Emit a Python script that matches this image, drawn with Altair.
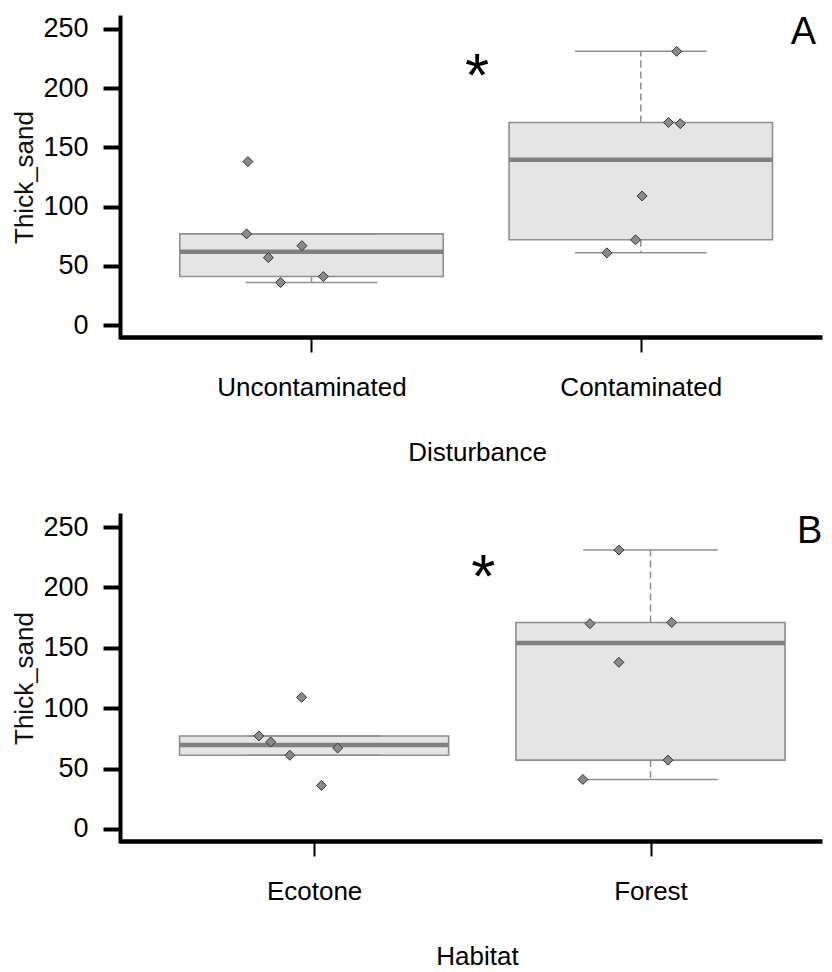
import altair as alt
import numpy as np
import pandas as pd

FONT = "Liberation Sans"

# ---------------- data ----------------
y_title = "Thick_sand"
y_ticks = [0, 50, 100, 150, 200, 250]

# Panel A
a_categories = ["Uncontaminated", "Contaminated"]
a_x_title = "Disturbance"
a_values = [[138, 77, 57, 67, 36, 41],
            [231, 171, 170, 109, 72, 61]]
a_jitter = [[0.807, 0.803, 0.869, 0.971, 0.906, 1.036],
            [2.109, 2.084, 2.120, 2.004, 1.984, 1.897]]
a_letter = "A"

# Panel B
b_categories = ["Ecotone", "Forest"]
b_x_title = "Habitat"
b_values = [[77, 72, 61, 109, 67, 36],
            [231, 170, 171, 138, 57, 41]]
b_jitter = [[0.836, 0.871, 0.928, 0.963, 1.070, 1.022],
            [1.906, 1.820, 2.063, 1.906, 2.052, 1.799]]
b_letter = "B"

# annotations (data coordinates): significance star and panel letter
star_x = [1.5, 1.5]
star_y = [193, 192]
letter_x = [2.494, 2.473]
letter_y = [237, 237]

# ---------------- style ----------------
BOXWEX = 0.8
STAPLE = 0.4
BOX_FILL = "#e5e5e5"
BOX_LINE = "#8f8f8f"
MED_LINE = "#808080"


def fivenum(v):
    s = sorted(v)
    n = len(s)
    n4 = np.floor((n + 3) / 2) / 2
    d = [1, n4, (n + 1) / 2, n + 1 - n4, n]
    return [0.5 * (s[int(np.floor(i)) - 1] + s[int(np.ceil(i)) - 1]) for i in d]


def box_stats(v):
    s = fivenum(v)
    iqr = s[3] - s[1]
    lo, hi = s[1] - 1.5 * iqr, s[3] + 1.5 * iqr
    inside = [x for x in v if lo <= x <= hi]
    return dict(wlo=min(inside), q1=s[1], med=s[2], q3=s[3], whi=max(inside))


def panel(k, cats, values, jitter, x_title, letter, x_domain, width, height):
    boxes, whisk, staples = [], [], []
    for i, v in enumerate(values):
        pos = i + 1
        st = box_stats(v)
        boxes.append(dict(pos=pos, xl=pos - BOXWEX / 2, xr=pos + BOXWEX / 2, **st))
        whisk.append(dict(pos=pos, y1=st["q3"], y2=st["whi"]))
        whisk.append(dict(pos=pos, y1=st["q1"], y2=st["wlo"]))
        staples.append(dict(sl=pos - STAPLE / 2, sr=pos + STAPLE / 2, y=st["whi"]))
        staples.append(dict(sl=pos - STAPLE / 2, sr=pos + STAPLE / 2, y=st["wlo"]))
    boxes = pd.DataFrame(boxes)
    whisk = pd.DataFrame(whisk)
    staples = pd.DataFrame(staples)
    pts = pd.DataFrame([dict(x=j, y=val)
                        for v, js in zip(values, jitter)
                        for val, j in zip(v, js)])
    stars = pd.DataFrame(dict(x=[star_x[k]], y=[star_y[k]], t=["*"]))
    letters = pd.DataFrame(dict(x=[letter_x[k]], y=[letter_y[k]], t=[letter]))

    xs = alt.Scale(domain=x_domain, nice=False, zero=False)
    ys = alt.Scale(domain=[-10, 260], nice=False, zero=False)

    x_axis = alt.Axis(
        values=[1, 2],
        labelExpr=f"datum.value === 1 ? '{cats[0]}' : '{cats[1]}'",
        title=x_title, grid=False,
        domainColor="black", domainWidth=4.5, domainCap="butt",
        tickColor="black", tickWidth=2, tickSize=15,
        labelPadding=22, labelFontSize=26, labelFont=FONT, labelColor="black",
        labelFlush=False, labelOverlap=False, labelLimit=500,
        titleFontSize=26, titleFont=FONT, titleColor="black",
        titleFontWeight="normal", titlePadding=39, titleX=357,
    )
    y_axis = alt.Axis(
        values=y_ticks, title=y_title, grid=False,
        domainColor="black", domainWidth=4, domainCap="square",
        tickColor="black", tickWidth=4, tickSize=17,
        labelPadding=15, labelFontSize=27, labelFont=FONT, labelColor="black",
        labelFlush=False, labelOverlap=False,
        titleFontSize=26, titleFont=FONT, titleColor="#111111",
        titleFontWeight="normal", titlePadding=5,
    )

    def X(f):
        return alt.X(f, scale=xs, axis=x_axis)

    def Y(f):
        return alt.Y(f, scale=ys, axis=y_axis)

    box = alt.Chart(boxes).mark_rect(fill=BOX_FILL, stroke=BOX_LINE, strokeWidth=1.6).encode(
        x=X("xl:Q"), x2="xr:Q", y=Y("q1:Q"), y2="q3:Q",
    )
    wh = alt.Chart(whisk).mark_rule(color=BOX_LINE, strokeWidth=1.5, strokeDash=[7, 4]).encode(
        x=X("pos:Q"), y=Y("y1:Q"), y2="y2:Q",
    )
    stp = alt.Chart(staples).mark_rule(color=BOX_LINE, strokeWidth=1.5).encode(
        x=X("sl:Q"), x2="sr:Q", y=Y("y:Q"),
    )
    med = alt.Chart(boxes).mark_rule(color=MED_LINE, strokeWidth=4.5).encode(
        x=X("xl:Q"), x2="xr:Q", y=Y("med:Q"),
    )
    points = alt.Chart(pts).mark_point(
        shape="diamond", filled=True, fill="#8a8a8a", stroke="#333333",
        strokeWidth=1, size=100, opacity=1,
    ).encode(x=X("x:Q"), y=Y("y:Q"))
    star = alt.Chart(stars).mark_text(
        font=FONT, fontSize=62, align="center", baseline="alphabetic", color="black", dx=1,
    ).encode(x=X("x:Q"), y=Y("y:Q"), text="t:N")
    let = alt.Chart(letters).mark_text(
        font=FONT, fontSize=38, align="center", baseline="alphabetic", color="black",
    ).encode(x=X("x:Q"), y=Y("y:Q"), text="t:N")
    return alt.layer(box, wh, stp, med, points, star, let).properties(width=width, height=height)


top = panel(0, a_categories, a_values, a_jitter, a_x_title, a_letter,
            [0.4185, 2.5503], 702, 320)
bottom = panel(1, b_categories, b_values, b_jitter, b_x_title, b_letter,
               [0.423, 2.5098], 702, 326)

chart = alt.vconcat(top, bottom, spacing=47).configure_view(stroke=None).properties(
    padding={"left": 3, "top": 6, "right": 0, "bottom": 0},
    background="white",
)

chart.save("out.html", embed_options={"renderer": "svg", "actions": False})
